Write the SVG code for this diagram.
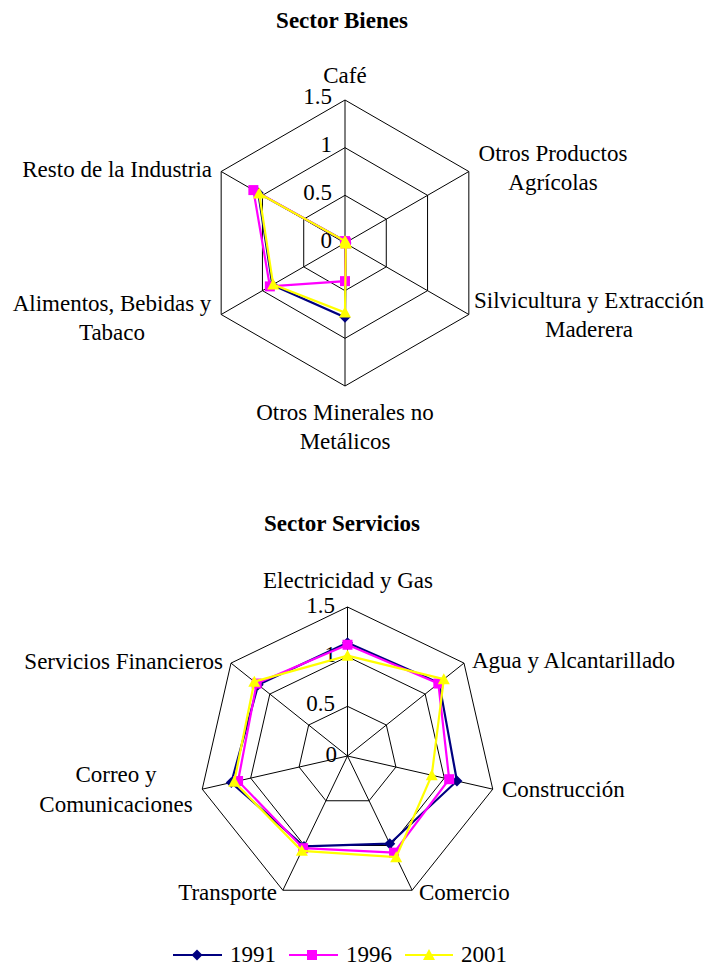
<svg xmlns="http://www.w3.org/2000/svg" width="706" height="968" viewBox="0 0 706 968">
<style>
text{font-family:"Liberation Serif","Times New Roman",serif;font-size:23px;fill:#000}
.title{font-weight:bold;font-size:23px}
.m{text-anchor:middle}
.e{text-anchor:end}
.lg{font-size:23px}
.grid{fill:none;stroke:#000;stroke-width:1}
.s91{fill:none;stroke:#000080;stroke-width:2.2;marker-start:url(#mDia);marker-mid:url(#mDia)}
.s96{fill:none;stroke:#FF00FF;stroke-width:2.2;marker-start:url(#mSq);marker-mid:url(#mSq)}
.s01{fill:none;stroke:#FFFF00;stroke-width:2.2;marker-start:url(#mTri);marker-mid:url(#mTri)}
</style>
<defs>
<marker id="mDia" markerUnits="userSpaceOnUse" markerWidth="14" markerHeight="14" refX="7" refY="7" overflow="visible"><path d="M7,1.5 L12.5,7 L7,12.5 L1.5,7Z" fill="#000080"/></marker>
<marker id="mSq" markerUnits="userSpaceOnUse" markerWidth="14" markerHeight="14" refX="7" refY="7" overflow="visible"><rect x="2" y="2" width="10" height="10" fill="#FF00FF"/></marker>
<marker id="mTri" markerUnits="userSpaceOnUse" markerWidth="14" markerHeight="14" refX="7" refY="7" overflow="visible"><path d="M7,1 L13,12 L1,12Z" fill="#FFFF00"/></marker>
</defs>

<g id="chart-bienes">
<text class="title m" x="342" y="28">Sector Bienes</text>
<g id="grid-bienes">
<polygon class="grid" points="345,100 468.84,171.5 468.84,314.5 345,386 221.16,314.5 221.16,171.5"/>
<polygon class="grid" points="345,147.67 427.56,195.33 427.56,290.67 345,338.33 262.44,290.67 262.44,195.33"/>
<polygon class="grid" points="345,195.33 386.28,219.17 386.28,266.83 345,290.67 303.72,266.83 303.72,219.17"/>
<path class="grid" d="M345,243 L345,100 M345,243 L468.84,171.5 M345,243 L468.84,314.5 M345,243 L345,386 M345,243 L221.16,314.5 M345,243 L221.16,171.5"/>
</g>
<g id="scale-bienes">
<text class="e" x="332" y="104">1.5</text>
<text class="e" x="332" y="152">1</text>
<text class="e" x="332" y="200">0.5</text>
<text class="e" x="332" y="248">0</text>
</g>
<g id="axis-cafe"><text class="m" x="345" y="83">Café</text></g>
<g id="axis-otros-productos"><text class="m" x="553" y="161">Otros Productos</text><text class="m" x="553" y="190">Agrícolas</text></g>
<g id="axis-silvicultura"><text class="m" x="589" y="308">Silvicultura y Extracción</text><text class="m" x="589" y="337">Maderera</text></g>
<g id="axis-minerales"><text class="m" x="345" y="420">Otros Minerales no</text><text class="m" x="345" y="449">Metálicos</text></g>
<g id="axis-alimentos"><text class="m" x="112" y="311">Alimentos, Bebidas y</text><text class="m" x="112" y="340">Tabaco</text></g>
<g id="axis-resto"><text class="e" x="212" y="177">Resto de la Industria</text></g>
<g id="series-bienes">
<polygon class="s91" points="345,241.1 345.83,242.52 345.83,243.48 345,317.36 272.35,284.95 258.31,192.95"/>
<polygon class="s96" points="345,241.1 345.83,242.52 345.83,243.48 345,281.13 269.87,286.38 253.36,190.09"/>
<polygon class="s01" points="345,241.1 345.83,242.52 345.83,243.48 345,312.59 273.17,284.47 259.14,193.43"/>
</g>
</g>

<g id="chart-servicios">
<text class="title m" x="342" y="531">Sector Servicios</text>
<g id="grid-servicios">
<polygon class="grid" points="347.5,607 463.99,663.1 492.76,789.16 412.15,890.24 282.85,890.24 202.24,789.16 231.01,663.1"/>
<polygon class="grid" points="347.5,656.67 425.16,694.07 444.34,778.1 390.6,845.5 304.4,845.5 250.66,778.1 269.84,694.07"/>
<polygon class="grid" points="347.5,706.33 386.33,725.03 395.92,767.05 369.05,800.75 325.95,800.75 299.08,767.05 308.67,725.03"/>
<path class="grid" d="M347.5,756 L347.5,607 M347.5,756 L463.99,663.1 M347.5,756 L492.76,789.16 M347.5,756 L412.15,890.24 M347.5,756 L282.85,890.24 M347.5,756 L202.24,789.16 M347.5,756 L231.01,663.1"/>
</g>
<g id="scale-servicios">
<text class="e" x="335" y="613">1.5</text>
<text class="e" x="336" y="662">1</text>
<text class="e" x="335" y="711">0.5</text>
<text class="e" x="337" y="762">0</text>
</g>
<g id="axis-electricidad"><text class="m" x="348" y="588">Electricidad y Gas</text></g>
<g id="axis-agua"><text x="472" y="668">Agua y Alcantarillado</text></g>
<g id="axis-construccion"><text x="502" y="797">Construcción</text></g>
<g id="axis-comercio"><text x="419" y="900">Comercio</text></g>
<g id="axis-transporte"><text class="e" x="277" y="900">Transporte</text></g>
<g id="axis-correo"><text class="m" x="116" y="782">Correo y</text><text class="m" x="116" y="812">Comunicaciones</text></g>
<g id="axis-financieros"><text class="e" x="223" y="669">Servicios Financieros</text></g>
<g id="series-servicios">
<polygon class="s91" points="347.5,642.76 439.14,682.92 456.94,780.98 389.74,843.71 303.97,846.39 231.29,782.52 258.19,684.78"/>
<polygon class="s96" points="347.5,644.75 438.36,683.54 449.19,779.21 394.05,852.66 303.11,848.18 238.06,780.98 256.64,683.54"/>
<polygon class="s01" points="347.5,655.67 443.8,679.2 431.75,775.23 396.2,857.13 301.82,850.86 234.19,781.86 254.31,681.68"/>
</g>
</g>

<g id="legend">
<polyline class="s91" points="173,955 197,955 222,955" style="marker-start:none"/>
<text class="lg" x="230" y="962">1991</text>
<polyline class="s96" points="289,955 312,955 338,955" style="marker-start:none"/>
<text class="lg" x="346" y="962">1996</text>
<polyline class="s01" points="405,955 429,955 453,955" style="marker-start:none"/>
<text class="lg" x="461" y="962">2001</text>
</g>
</svg>
